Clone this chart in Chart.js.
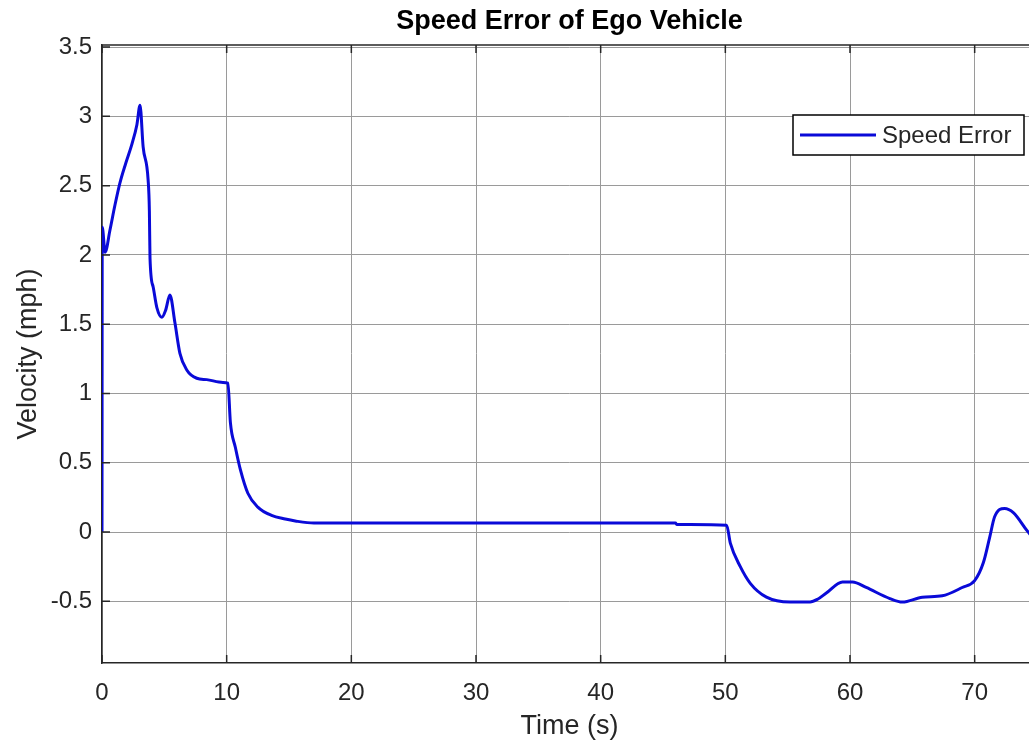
<!DOCTYPE html>
<html>
<head>
<meta charset="utf-8">
<title>Speed Error of Ego Vehicle</title>
<script src="https://cdn.jsdelivr.net/npm/chart.js@4.4.1/dist/chart.umd.min.js"></script>
<style>
    html, body { margin: 0; padding: 0; background: #ffffff; overflow: hidden; }
    #wrap { width: 1029px; height: 749px; overflow: hidden; }
</style>
</head>
<body>
<div id="wrap">
    <canvas id="speedChart" width="1042" height="749"></canvas>
</div>
<script>
// 數據
const timeSec = [0, 0.02, 0.25, 0.64, 1.04, 1.44, 1.9, 2.4, 2.8, 3.05, 3.3, 3.7, 3.8, 3.85, 4.1, 4.4, 4.8, 5.1, 5.45, 5.85, 6.25, 6.8, 7.6, 8.4, 9.7, 10.1, 10.3, 10.7, 11.1, 11.7, 12.5, 13.6, 14.7, 15.5, 17, 46, 46.1, 50.1, 50.4, 51.2, 52, 53.3, 55.2, 56.8, 57.4, 58.1, 59.4, 60.2, 61.3, 63.2, 64.2, 65.8, 67.4, 69, 70, 70.7, 71.2, 71.6, 72.4, 73.1, 74.2, 75];
const speedError = [0, 2.2, 2.02, 2.18, 2.36, 2.52, 2.66, 2.8, 2.94, 3.08, 2.78, 2.54, 2.32, 1.98, 1.77, 1.62, 1.55, 1.6, 1.71, 1.51, 1.29, 1.17, 1.11, 1.1, 1.08, 1.075, 0.79, 0.61, 0.45, 0.28, 0.18, 0.12, 0.094, 0.08, 0.065, 0.065, 0.055, 0.05, -0.08, -0.25, -0.37, -0.47, -0.505, -0.505, -0.485, -0.44, -0.36, -0.36, -0.4, -0.48, -0.505, -0.47, -0.46, -0.4, -0.35, -0.22, -0.04, 0.11, 0.17, 0.14, 0.01, -0.08];

const xTickValues = [0, 10, 20, 30, 40, 50, 60, 70];
const yTickValues = [-0.5, 0, 0.5, 1, 1.5, 2, 2.5, 3, 3.5];

const chartTitle = 'Speed Error of Ego Vehicle';
const xLabel = 'Time (s)';
const yLabel = 'Velocity (mph)';
const seriesLabel = 'Speed Error';

const FONT = "'Liberation Sans', Arial, Helvetica, sans-serif";
const AXIS_COLOR = '#262626';
const GRID_COLOR = '#9a9a9a';
const LINE_COLOR = '#0a0ad8';

/**
 * 外框、內側刻度、標題與圖例
 */
const matlabFrame = {
    id: 'matlabFrame',
    afterDraw(chart) {
        const { ctx, chartArea: a, scales } = chart;
        ctx.save();
        ctx.strokeStyle = AXIS_COLOR;
        ctx.lineWidth = 1.5;

        // 上框線
        ctx.beginPath();
        ctx.moveTo(a.left, a.top);
        ctx.lineTo(a.right, a.top);
        ctx.stroke();

        // 內側刻度
        ctx.beginPath();
        xTickValues.forEach(v => {
            const px = scales.x.getPixelForValue(v);
            ctx.moveTo(px, a.bottom);
            ctx.lineTo(px, a.bottom - 8);
            ctx.moveTo(px, a.top);
            ctx.lineTo(px, a.top + 8);
        });
        yTickValues.forEach(v => {
            const py = scales.y.getPixelForValue(v);
            ctx.moveTo(a.left, py);
            ctx.lineTo(a.left + 8, py);
            ctx.moveTo(a.right, py);
            ctx.lineTo(a.right - 8, py);
        });
        ctx.stroke();

        // 標題
        ctx.fillStyle = '#000000';
        ctx.font = 'bold 27px ' + FONT;
        ctx.textAlign = 'center';
        ctx.textBaseline = 'middle';
        ctx.fillText(chartTitle, (a.left + a.right) / 2, 22);

        // 圖例
        const boxW = 231, boxH = 40;
        const bx = a.right - 244, by = a.top + 70;
        ctx.fillStyle = '#ffffff';
        ctx.fillRect(bx, by, boxW, boxH);
        ctx.lineWidth = 1.5;
        ctx.strokeStyle = '#000000';
        ctx.strokeRect(bx, by, boxW, boxH);
        ctx.strokeStyle = LINE_COLOR;
        ctx.lineWidth = 3;
        ctx.beginPath();
        ctx.moveTo(bx + 7, by + boxH / 2);
        ctx.lineTo(bx + 83, by + boxH / 2);
        ctx.stroke();
        ctx.fillStyle = AXIS_COLOR;
        ctx.font = '24px ' + FONT;
        ctx.textAlign = 'left';
        ctx.fillText(seriesLabel, bx + 89, by + boxH / 2 + 1);
        ctx.restore();
    }
};

const points = timeSec.map((t, i) => ({ x: t, y: speedError[i] }));

new Chart(document.getElementById('speedChart'), {
    type: 'line',
    data: {
        datasets: [
            {
                label: seriesLabel,
                data: points,
                borderColor: LINE_COLOR,
                borderWidth: 3,
                cubicInterpolationMode: 'monotone',
                pointRadius: 0,
                fill: false
            }
        ]
    },
    options: {
        responsive: false,
        animation: false,
        layout: {
            padding: { top: 45, right: 5, left: 0, bottom: 0 }
        },
        plugins: {
            legend: { display: false },
            title: { display: false },
            tooltip: { enabled: false }
        },
        scales: {
            x: {
                type: 'linear',
                min: 0,
                max: 75,
                afterBuildTicks: function (scale) {
                    scale.ticks = xTickValues.map(v => ({ value: v }));
                },
                afterFit: function (scale) {
                    scale.height = 86;
                },
                grid: {
                    color: GRID_COLOR,
                    lineWidth: 1,
                    drawTicks: false
                },
                border: { color: AXIS_COLOR, width: 1.5 },
                ticks: {
                    color: AXIS_COLOR,
                    padding: 16,
                    maxRotation: 0,
                    font: { size: 24, family: FONT },
                    callback: function (value) {
                        return String(value);
                    }
                },
                title: {
                    display: true,
                    text: xLabel,
                    color: AXIS_COLOR,
                    padding: { top: 0, bottom: 6 },
                    font: { size: 27, family: FONT }
                }
            },
            y: {
                type: 'linear',
                min: -0.945,
                max: 3.515,
                afterBuildTicks: function (scale) {
                    scale.ticks = yTickValues.map(v => ({ value: v }));
                },
                afterFit: function (scale) {
                    scale.width = 102;
                },
                grid: {
                    color: GRID_COLOR,
                    lineWidth: 1,
                    drawTicks: false
                },
                border: { color: AXIS_COLOR, width: 1.5 },
                ticks: {
                    color: AXIS_COLOR,
                    padding: 10,
                    font: { size: 24, family: FONT },
                    callback: function (value) {
                        return String(value);
                    }
                },
                title: {
                    display: true,
                    text: yLabel,
                    color: AXIS_COLOR,
                    padding: { top: 12, bottom: 0 },
                    font: { size: 27, family: FONT }
                }
            }
        }
    },
    plugins: [matlabFrame]
});
</script>
</body>
</html>
